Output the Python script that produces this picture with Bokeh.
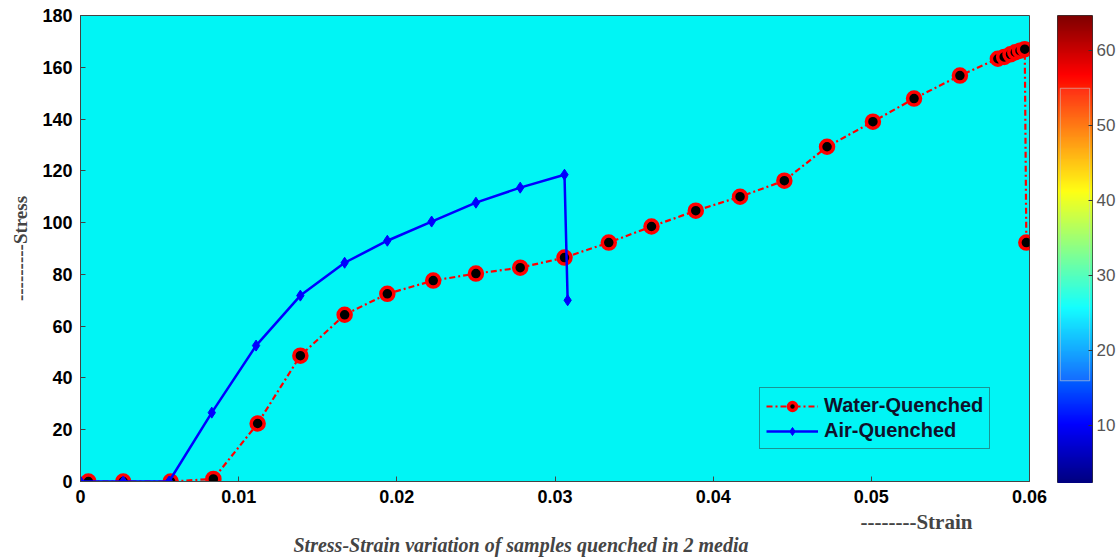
import numpy as np
from bokeh.plotting import figure
from bokeh.layouts import row
from bokeh.models import (LinearColorMapper, Title, Range1d, Legend, FixedTicker)
from bokeh.embed import file_html
from bokeh.resources import INLINE

# ---------------- data ----------------
water_strain = [0.0005, 0.0027, 0.0057, 0.0084, 0.0112, 0.0139, 0.0167, 0.0194,
                0.0223, 0.0250, 0.0278, 0.0306, 0.0334, 0.0361, 0.0389, 0.0417,
                0.0445, 0.0472, 0.0501, 0.0527, 0.0556, 0.0580, 0.0584, 0.0588,
                0.0591, 0.0594, 0.0597, 0.0598]
water_stress = [0.0, 0.0, 0.0, 1.0, 22.4, 48.6, 64.4, 72.5,
                77.6, 80.3, 82.6, 86.5, 92.3, 98.5, 104.6, 110.0,
                116.2, 129.3, 139.0, 147.9, 156.8, 163.3, 164.0, 165.0,
                165.8, 166.4, 167.0, 92.3]
air_strain = [0.0, 0.0027, 0.0056, 0.0083, 0.0111, 0.0139, 0.0167, 0.0194,
              0.0222, 0.0250, 0.0278, 0.0306, 0.0308]
air_stress = [0.0, 0.0, 0.0, 26.6, 52.5, 71.8, 84.5, 93.0,
              100.4, 107.7, 113.5, 118.5, 70.0]

x_ticks = [0, 0.01, 0.02, 0.03, 0.04, 0.05, 0.06]
x_tick_labels = ["0", "0.01", "0.02", "0.03", "0.04", "0.05", "0.06"]
y_ticks = [0, 20, 40, 60, 80, 100, 120, 140, 160, 180]
cbar_ticks = [10, 20, 30, 40, 50, 60]
cbar_low, cbar_high = 2.2, 64.6
cbar_box = [15.9, 54.9]   # faint overlay box on the colour bar

# jet colormap (styling)
def jet(n):
    out = []
    for t in np.linspace(0, 1, n):
        r = np.clip(1.5 - abs(4 * t - 3), 0, 1)
        g = np.clip(1.5 - abs(4 * t - 2), 0, 1)
        b = np.clip(1.5 - abs(4 * t - 1), 0, 1)
        out.append("#%02x%02x%02x" % (int(r * 255), int(g * 255), int(b * 255)))
    return out

BG = "#00F5F5"
TICK_FONT = "Liberation Sans"
SERIF = "Liberation Serif"

p = figure(frame_width=949, frame_height=466,
           x_range=Range1d(0, 0.06), y_range=Range1d(0, 180),
           output_backend="svg", toolbar_location=None,
           min_border_left=80, min_border_top=15, min_border_right=20,
           min_border_bottom=76)

p.background_fill_color = BG
p.border_fill_color = "white"
p.outline_line_color = "#444444"
p.outline_line_width = 1
p.grid.visible = False

for ax in (p.xaxis, p.yaxis):
    ax.major_tick_in = 5
    ax.major_tick_out = 0
    ax.minor_tick_line_color = None
    ax.axis_line_color = "#444444"
    ax.major_tick_line_color = "#444444"
    ax.major_label_text_font = TICK_FONT
    ax.major_label_text_font_style = "bold"
    ax.major_label_text_font_size = "18px"
    ax.major_label_text_color = "black"

p.xaxis.ticker = FixedTicker(ticks=x_ticks)
p.xaxis.major_label_overrides = {t: l for t, l in zip(x_ticks, x_tick_labels)}
p.xaxis.major_label_standoff = 8
p.yaxis.ticker = FixedTicker(ticks=y_ticks)
p.yaxis.major_label_standoff = 8

p.yaxis.axis_label = "---------Stress"
p.yaxis.axis_label_text_font = SERIF
p.yaxis.axis_label_text_font_style = "bold"
p.yaxis.axis_label_text_font_size = "19px"
p.yaxis.axis_label_standoff = 8

# series
wl = p.line(water_strain, water_stress, line_color="red", line_width=2.2,
            line_dash="6 3 2 3")
ws = p.scatter(water_strain, water_stress, marker="circle", size=13,
               fill_color="black", line_color="red", line_width=3.5)
al = p.line(air_strain, air_stress, line_color="#0000FF", line_width=2.5)
asc = p.scatter(air_strain, air_stress, marker="diamond", size=11,
                fill_color="#0000FF", line_color="#0000FF")

legend = Legend(items=[("Water-Quenched", [wl, ws]), ("Air-Quenched", [al, asc])],
                location=(679, 32))
legend.background_fill_color = BG
legend.background_fill_alpha = 1
legend.border_line_color = "#333333"
legend.border_line_width = 1
legend.label_text_font = TICK_FONT
legend.label_text_font_style = "bold"
legend.label_text_font_size = "20px"
legend.label_text_color = "#10102a"
legend.label_standoff = 6
legend.glyph_width = 52
legend.spacing = 2
legend.padding = 6
legend.margin = 0
p.add_layout(legend, "center")

# bottom texts
strain = Title(text="--------Strain", align="left", offset=780,
               text_font=SERIF, text_font_style="bold", text_font_size="21px",
               standoff=4)
p.add_layout(strain, "below")
cap = Title(text="Stress-Strain variation of samples quenched in 2 media",
            align="left", offset=213, text_font=SERIF,
            text_font_style="bold italic", text_font_size="20px", standoff=-7)
p.add_layout(cap, "below")

# colour bar as its own small figure
mapper = LinearColorMapper(palette=jet(256), low=cbar_low, high=cbar_high)
cbf = figure(frame_width=35, frame_height=468,
             x_range=Range1d(0, 1), y_range=Range1d(cbar_low, cbar_high),
             output_backend="svg", toolbar_location=None,
             y_axis_location="right", x_axis_location=None,
             min_border_left=8, min_border_top=15, min_border_right=0,
             min_border_bottom=0)
cbf.grid.visible = False
cbf.outline_line_color = "#333333"
cbf.image(image=[np.linspace(cbar_low, cbar_high, 256).reshape(-1, 1)],
          x=0, y=cbar_low, dw=1, dh=cbar_high - cbar_low, color_mapper=mapper)
cbf.quad(left=[0.08], right=[0.92], bottom=[cbar_box[0]], top=[cbar_box[1]],
         fill_color="white", fill_alpha=0.08, line_color="#cccccc",
         line_alpha=0.6, line_width=1)
cbf.yaxis.ticker = FixedTicker(ticks=cbar_ticks)
cbf.yaxis.major_label_text_font = TICK_FONT
cbf.yaxis.major_label_text_font_size = "17px"
cbf.yaxis.major_label_text_color = "#555555"
cbf.yaxis.major_label_standoff = 4
cbf.yaxis.major_tick_in = 4
cbf.yaxis.major_tick_out = 0
cbf.yaxis.minor_tick_line_color = None
cbf.yaxis.axis_line_color = None
cbf.yaxis.major_tick_line_color = "#333333"

layout = row(p, cbf, spacing=0)
open("out.html", "w").write(file_html(layout, INLINE))
